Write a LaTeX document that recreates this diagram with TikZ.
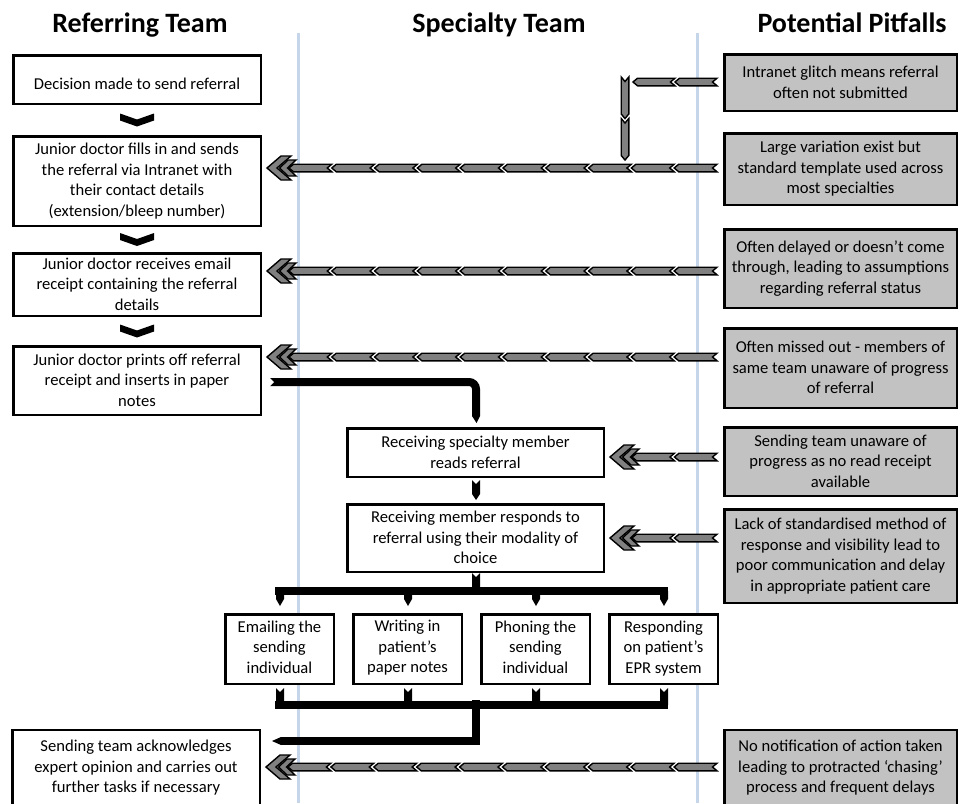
\documentclass[tikz,border=0pt]{standalone}
\usepackage{fontspec}
\setmainfont{Carlito}
\usetikzlibrary{calc}
\definecolor{pitgray}{RGB}{194,194,194}
\definecolor{seggray}{RGB}{128,128,128}
\definecolor{lanecol}{RGB}{198,214,234}
\newcommand\bodyfont{\fontsize{16.6}{20.5}\selectfont}
\tikzset{
 boxcore/.style={draw=black, line width=2.5pt, fill=white, align=center, inner sep=0pt, font=\bodyfont},
 box/.style={boxcore, execute at begin node={\rule{0pt}{20.5pt}}, execute at end node={\rule[-1pt]{0pt}{1pt}}},
 sbox/.style={boxcore, execute at begin node={\rule{0pt}{24pt}}, execute at end node={\rule[-4.5pt]{0pt}{4.5pt}}},
 pit/.style={box, fill=pitgray},
 seg/.style={draw=black, line width=1.4pt, fill=seggray, line join=miter},
 hdr/.style={font=\fontsize{28}{32}\selectfont\bfseries, anchor=base},
 lane/.style={draw=lanecol, line width=3pt},
 thk/.style={draw=black, line width=8pt},
}
% horizontal chain of notched segments, #1 right end, #2 left end, #3 count
\newcommand\hchain[3]{%
 \path let \p1=(#1),\p2=(#2) in \pgfextra{\xdef\chR{\x1}\xdef\chL{\x2}\xdef\chY{\y2}};
 \pgfmathsetmacro\chP{(\chR-\chL)/#3}%
 \foreach \k in {1,...,#3}{%
   \pgfmathsetmacro\xa{\chL+(\k-1)*\chP}%
   \pgfmathsetmacro\xb{\xa+\chP}%
   \draw[seg] (\xa pt,\chY) -- (\xa pt+4.5pt,\chY+3.8pt) -- (\xb pt,\chY+3.8pt) -- (\xb pt-4.5pt,\chY) -- (\xb pt,\chY-3.8pt) -- (\xa pt+4.5pt,\chY-3.8pt) -- cycle;
 }}
% vertical chain, #1 top, #2 bottom tip, #3 count
\newcommand\vchain[3]{%
 \path let \p1=(#1),\p2=(#2) in \pgfextra{\xdef\chT{\y1}\xdef\chB{\y2}\xdef\chX{\x1}};
 \pgfmathsetmacro\chP{(\chT-\chB)/#3}%
 \foreach \k in {1,...,#3}{%
   \pgfmathsetmacro\ya{\chB+(\k-1)*\chP}%
   \pgfmathsetmacro\yb{\ya+\chP}%
   \draw[seg] (\chX,\ya pt) -- (\chX+3.8pt,\ya pt+4.5pt) -- (\chX+3.8pt,\yb pt) -- (\chX,\yb pt-4.5pt) -- (\chX-3.8pt,\yb pt) -- (\chX-3.8pt,\ya pt+4.5pt) -- cycle;
 }}
% double chevron head, #1 tip
\newcommand\chead[1]{%
 \path let \p1=(#1) in \pgfextra{\xdef\hx{\x1}\xdef\hy{\y1}};
 \draw[seg] (\hx,\hy) -- (\hx+14pt,\hy+12pt) -- (\hx+24pt,\hy+12pt) -- (\hx+10pt,\hy) -- (\hx+24pt,\hy-12pt) -- (\hx+14pt,\hy-12pt) -- cycle;
 \draw[seg] (\hx+12.5pt,\hy) -- (\hx+21pt,\hy+8pt) -- (\hx+29pt,\hy+8pt) -- (\hx+20.5pt,\hy) -- (\hx+29pt,\hy-8pt) -- (\hx+21pt,\hy-8pt) -- cycle;
}
% black down chevron between boxes, #1 centre
\newcommand\dchev[1]{%
 \fill ($(#1)+(-17,-6.5)$) -- ($(#1)+(0,-0.5)$) -- ($(#1)+(17,-6.5)$) -- ($(#1)+(17,0.5)$) -- ($(#1)+(0,6.5)$) -- ($(#1)+(-17,0.5)$) -- cycle;}
% vertical stub: notched top #1, pointed bottom #2
\newcommand\vstub[2]{%
 \fill ($(#1)+(-4,0)$) -- ($(#1)+(0,4)$) -- ($(#1)+(4,0)$) -- ($(#2)+(4,-6)$) -- (#2) -- ($(#2)+(-4,-6)$) -- cycle;}
% notched top, flat bottom
\newcommand\vstubf[2]{%
 \fill ($(#1)+(-4,0)$) -- ($(#1)+(0,4)$) -- ($(#1)+(4,0)$) -- ($(#2)+(4,0)$) -- ($(#2)+(-4,0)$) -- cycle;}
% flat top, pointed bottom
\newcommand\vdrop[2]{%
 \fill ($(#1)+(-4,0)$) -- ($(#1)+(4,0)$) -- ($(#2)+(4,-7)$) -- (#2) -- ($(#2)+(-4,-7)$) -- cycle;}

\begin{document}
\begin{tikzpicture}[x=1pt,y=-1pt]
\useasboundingbox (0,0) rectangle (963,803);
% lanes
\draw[lane] (298,33) coordinate (la1) -- (298,803) coordinate (la2);
\draw[lane] (697,33) coordinate (lb1) -- (697,803) coordinate (lb2);
% headers
\node[hdr] (H1) at (140,32) {Referring Team};
\node[hdr] (H2) at (499,32) {Specialty Team};
\node[hdr] (H3) at (852,32) {Potential Pitfalls};

% left column
\node[box, minimum width=247.5pt, minimum height=48.5pt] (L1) at (137,79.5) {Decision made to send referral};
\node[box, minimum width=247.5pt, minimum height=89.5pt] (L2) at (137,181) {Junior doctor fills in and sends\\the referral via Intranet with\\their contact details\\(extension/bleep number)};
\node[box, minimum width=247.5pt, minimum height=62.5pt] (L3) at (137,284.5) {Junior doctor receives email\\receipt containing the referral\\details};
\node[box, minimum width=247.5pt, minimum height=68.5pt] (L4) at (137,380.5) {Junior doctor prints off referral\\receipt and inserts in paper\\notes};
\node[box, minimum width=247.5pt, minimum height=76pt] (L5) at (136,768) {Sending team acknowledges\\expert opinion and carries out\\further tasks if necessary};

\coordinate (c1) at ($(L1.south)!0.5!(L2.north)$);
\coordinate (c2) at ($(L2.south)!0.5!(L3.north)$);
\coordinate (c3) at ($(L3.south)!0.5!(L4.north)$);
\dchev{c1}\dchev{c2}\dchev{c3}

% middle column
\node[box, minimum width=256.5pt, minimum height=48.5pt] (M1) at (475.5,452.5) {Receiving specialty member\\reads referral};
\node[box, minimum width=256.5pt, minimum height=67.5pt] (M2) at (475.5,538) {Receiving member responds to\\referral using their modality of\\choice};
\foreach \n/\x/\t in {S1/279.5/{Emailing the\\sending\\individual}, S2/407.5/{Writing in\\patient’s\\paper notes}, S3/535.5/{Phoning the\\sending\\individual}, S4/663.5/{Responding\\on patient’s\\EPR system}}{
  \node[sbox, minimum width=108.5pt, minimum height=69.5pt] (\n) at (\x,649) {\t};
}

% pitfalls
\node[pit, minimum width=232.5pt, minimum height=56.5pt] (P1) at (840.5,82.5) {Intranet glitch means referral\\often not submitted};
\node[pit, minimum width=232.5pt, minimum height=71.5pt] (P2) at (840.5,169) {Large variation exist but\\standard template used across\\most specialties};
\node[pit, minimum width=232.5pt, minimum height=78.5pt] (P3) at (840.5,268.5) {Often delayed or doesn’t come\\through, leading to assumptions\\regarding referral status};
\node[pit, minimum width=232.5pt, minimum height=79.5pt] (P4) at (840.5,368) {Often missed out - members of\\same team unaware of progress\\of referral};
\node[pit, minimum width=232.5pt, minimum height=68.5pt] (P5) at (840.5,461.5) {Sending team unaware of\\progress as no read receipt\\available};
\node[pit, minimum width=232.5pt, minimum height=93.5pt] (P6) at (840.5,556) {Lack of standardised method of\\response and visibility lead to\\poor communication and delay\\in appropriate patient care};
\node[pit, minimum width=232.5pt, minimum height=76pt] (P7) at (840.5,768) {No notification of action taken\\leading to protracted ‘chasing’\\process and frequent delays};

% thick connector L4 -> M1
\coordinate (k1s) at ($(L4.east)+(8,1.5)$);
\coordinate (k1m) at ($(M1.north)+(0.5,-11)$);
\draw[thk, rounded corners=7pt] (k1s) -| (k1m);
\fill ($(k1m)+(-4,0)$) -- ($(k1m)+(4,0)$) -- ($(k1m)+(0.5,7)$) -- cycle;
\fill[white] ($(k1s)+(-0.5,-4.5)$) -- ($(k1s)+(4,0)$) -- ($(k1s)+(-0.5,4.5)$) -- cycle;

% M1 -> M2
\coordinate (m1b) at ($(M1.south)+(0.5,2)$);
\coordinate (m2t) at ($(M2.north)+(0.5,-3)$);
\vstub{m1b}{m2t}

% branch top
\coordinate (bt) at ($(M2.south)+(0.5,0)$);
\coordinate (btb) at ($(bt)+(0,18)$);
\vstubf{bt}{btb}
\draw[thk] ($(S1.north)+(-4.5,-22)$) coordinate (bl) -- ($(S4.north)+(4.5,-22)$) coordinate (br);
\foreach \n in {S1,S2,S3,S4}{
  \coordinate (d1) at ($(\n.north)+(0.5,-22)$);
  \coordinate (d2) at ($(\n.north)+(0.5,-7)$);
  \vdrop{d1}{d2}
}
% branch bottom
\foreach \n in {S1,S2,S3,S4}{
  \coordinate (u1) at ($(\n.south)+(0.5,3)$);
  \coordinate (u2) at ($(\n.south)+(0.5,20)$);
  \vstubf{u1}{u2}
}
\draw[thk] ($(S1.south)+(-4.5,20)$) coordinate (cl) -- ($(S4.south)+(4.5,20)$) coordinate (cr);
\coordinate (bb) at ($(M2.south)+(0.5,131)$);
\coordinate (fe) at ($(L5.east)+(20,-27)$);
\draw[thk] ($(bb)+(0,-4)$) |- (fe);
\fill ($(fe)+(0,-4)$) -- ($(fe)+(0,4)$) -- ($(fe)+(-9,0)$) -- cycle;

% pitfall chevron arrows
\coordinate (y1) at (0,82);
\coordinate (y2) at (0,168);
\coordinate (y3) at (0,271);
\coordinate (y4) at (0,357);
\coordinate (y5) at (0,457);
\coordinate (y6) at (0,538);
\coordinate (y7) at (0,767);
% P1 path
\coordinate (r1) at ($(P1.west |- y1)+(-6,0)$);
\coordinate (l1) at (633,82);
\coordinate (vt) at (625,77);
\coordinate (vb) at (625,160);
\hchain{r1}{l1}{2}
\vchain{vt}{vb}{2}
% long arrows to the referring team
\foreach \i/\src/\dst in {2/P2/L2, 3/P3/L3, 4/P4/L4, 7/P7/L5}{
  \coordinate (r) at ($(\src.west |- y\i)+(-6,0)$);
  \coordinate (t) at ($(\dst.east |- y\i)+(5,0)$);
  \coordinate (l) at ($(t)+(22,0)$);
  \hchain{r}{l}{10}
  \chead{t}
}
% short arrows to the specialty team
\foreach \i/\src/\dst in {5/P5/M1, 6/P6/M2}{
  \coordinate (r) at ($(\src.west |- y\i)+(-6,0)$);
  \coordinate (t) at ($(\dst.east |- y\i)+(5,0)$);
  \coordinate (l) at ($(t)+(22,0)$);
  \hchain{r}{l}{2}
  \chead{t}
}
\end{tikzpicture}
\end{document}
